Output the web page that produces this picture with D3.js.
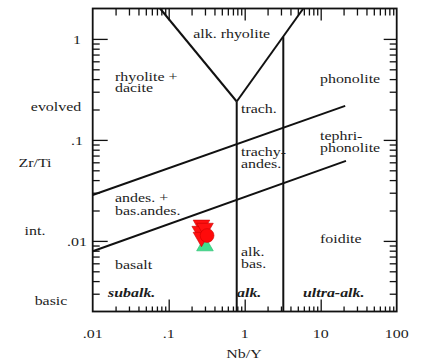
<!DOCTYPE html>
<html>
<head>
<meta charset="utf-8">
<script src="https://cdn.jsdelivr.net/npm/d3@7"></script>
<style>
  html, body { margin: 0; padding: 0; background: #fff; }
  svg { display: block; }
</style>
</head>
<body>
<svg id="chart" width="422" height="362"></svg>
<script>
// Axis ticks (Nb/Y and Zr/Ti, log scales)
const xMajorTicks = [0.01, 0.1, 1, 10, 100];
const xTickLabels = [".01", ".1", "1", "10", "100"];
const yMajorTicks = [0.01, 0.1, 1];
const yTickLabels = [".01", ".1", "1"];

// Field boundaries, as [Nb/Y, Zr/Ti] vertices
const vLeftArm     = [[0.077, 2], [0.785, 0.24]];
const vRightArm    = [[0.785, 0.24], [5.9, 2]];
const alkBoundary  = [[0.785, 0.24], [0.785, 0.002]];
const ultraBoundary = [[3.22, 1.05], [3.22, 0.002]];
const upperOblique = [[0.01, 0.0285], [21, 0.217]];
const lowerOblique = [[0.01, 0.0079], [21.5, 0.062]];

// Samples
const triNbY   = [0.27, 0.26, 0.27, 0.30];
const triZrTi  = [0.0144, 0.0125, 0.0109, 0.0134];
const circNbY  = [0.32];
const circZrTi = [0.0113];
const upNbY    = [0.30];
const upZrTi   = [0.0089];

const FONT = "'Liberation Serif', Tinos, 'Times New Roman', 'DejaVu Serif', serif";

const svg = d3.select("#chart");
const plotL = 92.7, plotR = 396.7, plotT = 8.5, plotB = 311.5;

const x = d3.scaleLog().domain([0.01, 100]).range([plotL, plotR]);
const y = d3.scaleLog().domain([0.002, 2]).range([plotB, plotT]);

function minorTicks(scale) {
  const [a, b] = scale.domain();
  const out = [];
  for (let e = Math.floor(Math.log10(a)); e < Math.ceil(Math.log10(b)); e++) {
    for (let m = 2; m <= 9; m++) {
      const v = m * Math.pow(10, e);
      if (v > a * 1.0001 && v < b * 0.9999) out.push(v);
    }
  }
  return out;
}
const xMinor = minorTicks(x);
const yMinor = minorTicks(y);

function tickAxis(axisFn, scale, values, size, transform) {
  const g = svg.append("g").attr("transform", transform)
    .call(axisFn(scale).tickValues(values).tickSizeInner(-size).tickSizeOuter(0).tickFormat(""));
  g.select(".domain").remove();
  g.selectAll(".tick line").attr("stroke", "#111").attr("stroke-width", 1.3);
  return g;
}

// Inward ticks on all four sides
const xInnerMajors = xMajorTicks.filter(v => v > 0.01 && v < 100);
tickAxis(d3.axisBottom, x, xInnerMajors, 12, `translate(0,${plotB})`);
tickAxis(d3.axisBottom, x, xMinor, 5, `translate(0,${plotB})`);
tickAxis(d3.axisTop, x, xInnerMajors, 12, `translate(0,${plotT})`);
tickAxis(d3.axisTop, x, xMinor, 7, `translate(0,${plotT})`);
tickAxis(d3.axisLeft, y, yMajorTicks, 15, `translate(${plotL},0)`);
tickAxis(d3.axisLeft, y, yMinor, 7, `translate(${plotL},0)`);
tickAxis(d3.axisRight, y, yMajorTicks, 13, `translate(${plotR},0)`);
tickAxis(d3.axisRight, y, yMinor, 7, `translate(${plotR},0)`);

// Frame
svg.append("rect")
  .attr("x", plotL).attr("y", plotT)
  .attr("width", plotR - plotL).attr("height", plotB - plotT)
  .attr("fill", "none").attr("stroke", "#111").attr("stroke-width", 1.8);

// Field boundaries
const line = d3.line().x(d => x(d[0])).y(d => y(d[1]));
[vLeftArm, vRightArm, alkBoundary, ultraBoundary, upperOblique, lowerOblique].forEach(pts => {
  svg.append("path").attr("d", line(pts))
    .attr("fill", "none").attr("stroke", "#111").attr("stroke-width", 2);
});

// Text helper: serif set slightly wide
const SX = 1.18;
function label(str, px, py, opts = {}) {
  const t = svg.append("text")
    .attr("transform", `translate(${px},${py}) scale(${SX},1)`)
    .attr("font-family", FONT)
    .attr("fill", "#1c1c1c")
    .attr("font-size", opts.size || 13.5)
    .attr("text-anchor", opts.anchor || "start")
    .text(str);
  if (opts.bold) t.attr("font-weight", "bold");
  if (opts.italic) t.attr("font-style", "italic");
  return t;
}

// Tick labels
xMajorTicks.forEach((v, i) => label(xTickLabels[i], x(v), 338, { anchor: "middle" }));
yMajorTicks.forEach((v, i) => label(yTickLabels[i], 77, y(v) + 5, { anchor: "middle" }));

// Axis titles and side annotations
label("Nb/Y", 244, 358, { anchor: "middle" });
label("Zr/Ti", 35, 167, { anchor: "middle" });
label("evolved", 56, 111, { anchor: "middle" });
label("int.", 35, 235, { anchor: "middle" });
label("basic", 51, 305, { anchor: "middle" });

// Field names
label("alk. rhyolite", 231.7, 38, { anchor: "middle" });
label("rhyolite +", 115, 81);
label("dacite", 115, 92);
label("phonolite", 320, 83);
label("trach.", 241, 113);
label("trachy-", 241, 156);
label("andes.", 241, 168);
label("tephri-", 320, 140);
label("phonolite", 320, 152);
label("andes. +", 115, 202);
label("bas.andes.", 115, 214.5);
label("foidite", 320, 243);
label("alk.", 241, 256);
label("bas.", 241, 268);
label("basalt", 115, 269);
label("subalk.", 108, 297, { bold: true, italic: true });
label("alk.", 237, 297, { bold: true, italic: true });
label("ultra-alk.", 303, 297, { bold: true, italic: true });

// Samples
const up = d3.symbol().type(d3.symbolTriangle).size(120);
const dot = d3.symbol().type(d3.symbolCircle).size(150);

svg.append("g").selectAll("path").data(d3.zip(upNbY, upZrTi)).join("path")
  .attr("d", up)
  .attr("transform", d => `translate(${x(d[0])},${y(d[1])})`)
  .attr("fill", "#3fdf8e").attr("stroke", "#22b86a").attr("stroke-width", 0.6);

svg.append("g").selectAll("path").data(d3.zip(triNbY, triZrTi)).join("path")
  .attr("d", up)
  .attr("transform", d => `translate(${x(d[0])},${y(d[1])}) rotate(180)`)
  .attr("fill", "#ff1010").attr("stroke", "#c80000").attr("stroke-width", 0.6);

svg.append("g").selectAll("path").data(d3.zip(circNbY, circZrTi)).join("path")
  .attr("d", dot)
  .attr("transform", d => `translate(${x(d[0])},${y(d[1])})`)
  .attr("fill", "#ff0a0a").attr("stroke", "#d00000").attr("stroke-width", 0.6);
</script>
</body>
</html>
